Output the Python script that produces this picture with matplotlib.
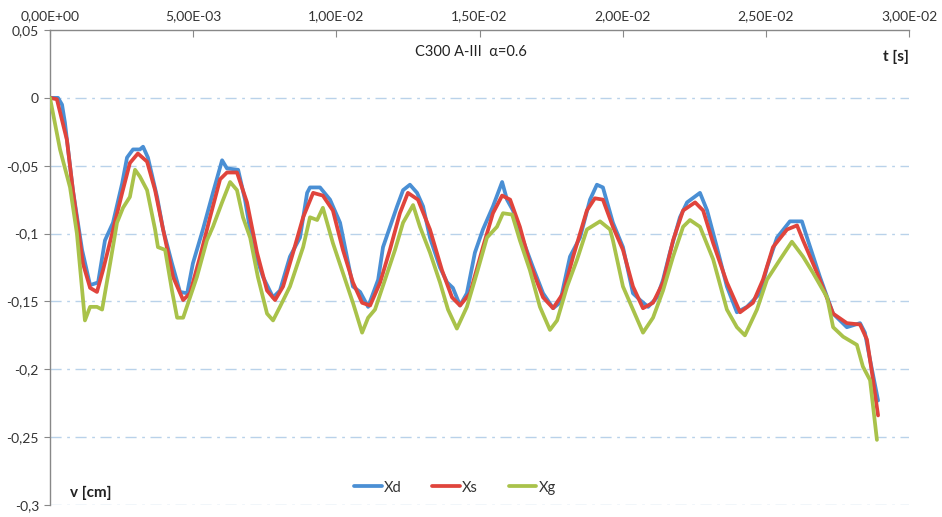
import matplotlib
matplotlib.use("Agg")
import matplotlib.pyplot as plt
from matplotlib.ticker import FuncFormatter

plt.rcParams["font.family"] = ["Lato", "DejaVu Sans"]

# time in ms, displacement in cm
t_xd = [0, 0.28, 0.42, 0.52, 0.80, 1.12, 1.40, 1.68, 1.92, 2.20, 2.52, 2.69, 2.90, 3.14, 3.25, 3.42,
        3.74, 3.95, 4.26, 4.54, 4.79, 4.99, 5.34, 5.69, 6.01, 6.18, 6.57, 6.81, 7.09, 7.44, 7.79,
        8.03, 8.38, 8.73, 8.98, 9.08, 9.43, 9.78, 10.13, 10.58, 10.83, 11.11, 11.46, 11.63, 12.12,
        12.33, 12.57, 12.82, 13.03, 13.27, 13.62, 13.87, 14.07, 14.32, 14.56, 14.84, 15.12, 15.47,
        15.79, 15.96, 16.17, 16.52, 16.87, 17.22, 17.57, 17.81, 18.16, 18.51, 18.86, 19.10, 19.31,
        19.66, 20.01, 20.36, 20.61, 20.89, 21.20, 21.41, 21.65, 22.00, 22.25, 22.70, 22.95, 23.29,
        23.64, 23.99, 24.34, 24.80, 25.04, 25.39, 25.84, 26.26, 26.44, 26.89, 27.35, 27.83, 28.29,
        28.46, 28.64, 28.92]
v_xd = [0, 0, -0.005, -0.018, -0.068, -0.112, -0.138, -0.136, -0.105, -0.092, -0.063, -0.044, -0.038,
        -0.038, -0.036, -0.044, -0.073, -0.097, -0.122, -0.143, -0.144, -0.122, -0.097, -0.070, -0.046,
        -0.052, -0.053, -0.075, -0.110, -0.132, -0.147, -0.142, -0.117, -0.103, -0.070, -0.066, -0.066,
        -0.075, -0.092, -0.139, -0.143, -0.154, -0.134, -0.110, -0.080, -0.068, -0.064, -0.070, -0.080,
        -0.103, -0.125, -0.136, -0.140, -0.153, -0.144, -0.114, -0.097, -0.080, -0.062, -0.075, -0.083,
        -0.105, -0.125, -0.144, -0.155, -0.151, -0.117, -0.103, -0.075, -0.064, -0.066, -0.092, -0.110,
        -0.144, -0.149, -0.154, -0.147, -0.134, -0.114, -0.088, -0.077, -0.070, -0.083, -0.110, -0.139,
        -0.158, -0.154, -0.144, -0.125, -0.103, -0.091, -0.091, -0.103, -0.132, -0.159, -0.169, -0.166,
        -0.173, -0.193, -0.223]

t_xs = [0, 0.24, 0.59, 0.80, 1.15, 1.40, 1.64, 1.85, 2.17, 2.52, 2.79, 3.07, 3.39, 3.67, 3.95, 4.30,
        4.65, 4.89, 5.24, 5.59, 5.94, 6.18, 6.53, 6.88, 7.23, 7.58, 7.86, 8.14, 8.49, 8.84, 9.19, 9.53,
        9.88, 10.23, 10.58, 10.90, 11.18, 11.53, 11.87, 12.22, 12.50, 12.85, 13.27, 13.69, 14.04, 14.32,
        14.67, 15.12, 15.47, 15.79, 16.07, 16.41, 16.76, 17.22, 17.57, 17.92, 18.27, 18.75, 19.03, 19.31,
        19.66, 20.01, 20.36, 20.71, 21.06, 21.41, 21.76, 22.11, 22.53, 22.81, 23.16, 23.64, 24.10, 24.55,
        24.90, 25.25, 25.74, 26.09, 26.30, 26.79, 27.35, 27.83, 28.29, 28.53, 28.71, 28.92]
v_xs = [0, -0.001, -0.031, -0.068, -0.122, -0.140, -0.143, -0.127, -0.100, -0.070, -0.048, -0.041,
        -0.047, -0.068, -0.097, -0.132, -0.149, -0.144, -0.117, -0.088, -0.060, -0.055, -0.055, -0.077,
        -0.114, -0.142, -0.149, -0.139, -0.114, -0.088, -0.070, -0.072, -0.083, -0.112, -0.136, -0.151,
        -0.153, -0.136, -0.112, -0.085, -0.070, -0.075, -0.097, -0.127, -0.147, -0.153, -0.144, -0.110,
        -0.085, -0.072, -0.075, -0.095, -0.122, -0.147, -0.155, -0.144, -0.117, -0.083, -0.074, -0.075,
        -0.095, -0.112, -0.139, -0.155, -0.151, -0.136, -0.105, -0.083, -0.077, -0.083, -0.107, -0.136,
        -0.158, -0.151, -0.134, -0.110, -0.097, -0.094, -0.105, -0.129, -0.159, -0.166, -0.167, -0.178,
        -0.203, -0.234]

t_xg = [0, 0.35, 0.70, 0.94, 1.22, 1.40, 1.64, 1.82, 2.10, 2.34, 2.55, 2.79, 2.97, 3.14, 3.39, 3.67,
        3.77, 4.02, 4.26, 4.44, 4.65, 4.89, 5.13, 5.48, 5.69, 6.01, 6.29, 6.53, 6.74, 6.99, 7.26, 7.58,
        7.79, 8.03, 8.38, 8.84, 9.08, 9.33, 9.53, 9.88, 10.23, 10.58, 10.90, 11.11, 11.35, 11.70, 12.05,
        12.33, 12.68, 12.92, 13.27, 13.62, 13.90, 14.21, 14.56, 14.91, 15.26, 15.61, 15.82, 16.14, 16.41,
        16.76, 17.11, 17.46, 17.71, 18.06, 18.41, 18.75, 19.21, 19.56, 19.66, 20.01, 20.36, 20.71, 21.06,
        21.41, 21.76, 22.11, 22.35, 22.70, 23.16, 23.64, 23.99, 24.27, 24.69, 25.04, 25.50, 25.91, 26.30,
        26.65, 27.14, 27.35, 27.70, 28.18, 28.39, 28.64, 28.88]
v_xg = [0, -0.038, -0.066, -0.100, -0.164, -0.154, -0.154, -0.156, -0.122, -0.092, -0.081, -0.073,
        -0.053, -0.058, -0.068, -0.097, -0.110, -0.112, -0.142, -0.162, -0.162, -0.147, -0.132, -0.105,
        -0.095, -0.077, -0.062, -0.068, -0.088, -0.103, -0.132, -0.159, -0.164, -0.154, -0.139, -0.110,
        -0.088, -0.090, -0.081, -0.107, -0.129, -0.151, -0.173, -0.162, -0.156, -0.134, -0.112, -0.092,
        -0.079, -0.095, -0.114, -0.136, -0.156, -0.170, -0.154, -0.129, -0.103, -0.095, -0.085, -0.086,
        -0.105, -0.127, -0.154, -0.171, -0.164, -0.139, -0.119, -0.097, -0.091, -0.097, -0.105, -0.139,
        -0.156, -0.173, -0.162, -0.142, -0.117, -0.095, -0.090, -0.095, -0.119, -0.156, -0.169, -0.175,
        -0.156, -0.134, -0.119, -0.106, -0.117, -0.129, -0.147, -0.169, -0.176, -0.182, -0.198, -0.208,
        -0.252]

series_names = ["Xd", "Xs", "Xg"]
series_colors = ["#4a8fd4", "#e0443c", "#a9c24a"]

x_ticks = [0, 0.005, 0.01, 0.015, 0.02, 0.025, 0.03]
y_ticks = [0.05, 0, -0.05, -0.1, -0.15, -0.2, -0.25, -0.3]
grid_levels = [0, -0.05, -0.1, -0.15, -0.2, -0.25, -0.3]


def sci_comma(x, pos):
    return f"{x:.2E}".replace(".", ",")


def general_comma(y, pos):
    if abs(y) < 1e-12:
        return "0"
    return f"{y:g}".replace(".", ",")


fig = plt.figure(figsize=(9.42, 5.17), dpi=100)
ax = fig.add_axes([50 / 942, 1 - 505 / 517, 859 / 942, 475 / 517])

for gl in grid_levels:
    ax.axhline(gl, color="#b9d2ea", lw=1.0, ls=(0, (8, 4, 2, 4)), zorder=1)

for t, v, name, col in zip([t_xd, t_xs, t_xg], [v_xd, v_xs, v_xg], series_names, series_colors):
    ax.plot([ti * 1e-3 for ti in t], v, color=col, lw=2.7, label=name, zorder=3,
            solid_joinstyle="round", solid_capstyle="round")

ax.set_xlim(0, 0.03)
ax.set_ylim(-0.3, 0.05)
ax.set_xticks(x_ticks)
ax.set_yticks(y_ticks)
ax.xaxis.set_major_formatter(FuncFormatter(sci_comma))
ax.yaxis.set_major_formatter(FuncFormatter(general_comma))

ax.xaxis.tick_top()
ax.tick_params(axis="x", direction="in", length=5, color="#888888", labelsize=10,
               labelcolor="#333333", pad=6)
ax.tick_params(axis="y", direction="out", length=4, color="#888888", labelsize=10,
               labelcolor="#333333", pad=4)

for side in ["bottom", "right"]:
    ax.spines[side].set_visible(False)
for side in ["top", "left"]:
    ax.spines[side].set_color("#888888")
    ax.spines[side].set_linewidth(1.0)

ax.text(0.5, 0.90, "C300 A-III  α=0.6", transform=fig.transFigure, ha="center", va="center",
        fontsize=10.5, color="#222222")
ax.text(0.965, 0.89, "t [s]", transform=fig.transFigure, ha="right", va="center",
        fontsize=11, fontweight="bold", color="#222222")
ax.text(0.074, 0.047, "v [cm]", transform=fig.transFigure, ha="left", va="center",
        fontsize=11, fontweight="bold", color="#222222")

ax.legend(loc="center", bbox_to_anchor=(0.483, 0.057), bbox_transform=fig.transFigure,
          ncol=3, frameon=False, fontsize=10.5, handlelength=1.9, handletextpad=0.15,
          columnspacing=2.1, labelcolor="#333333")

fig.savefig("out.png", dpi=100, facecolor="white")
